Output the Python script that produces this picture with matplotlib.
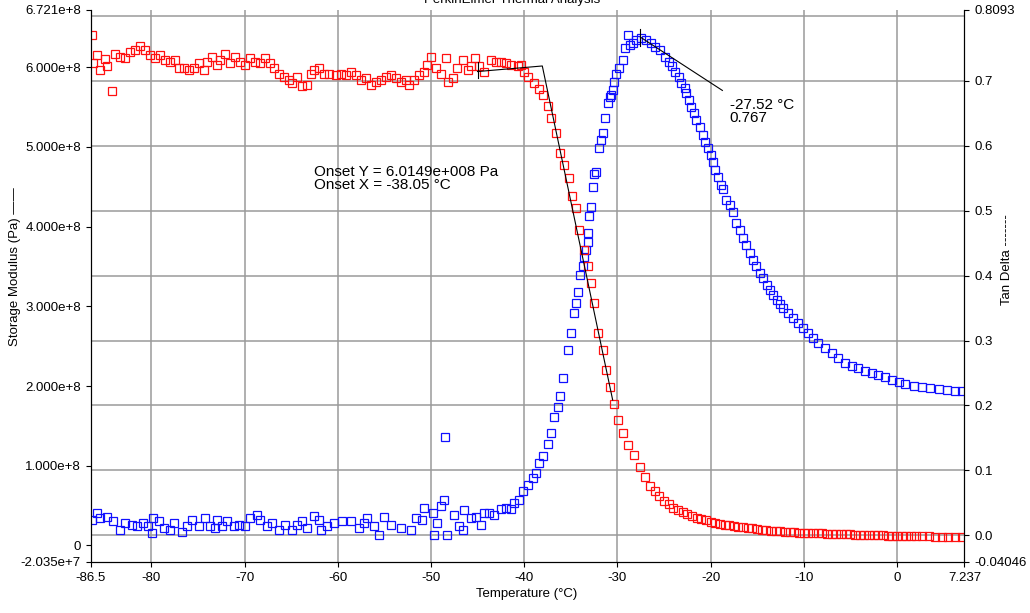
import matplotlib
matplotlib.use('Agg')
import matplotlib.pyplot as plt
import numpy as np

plt.rcParams['font.family'] = ['Liberation Sans', 'DejaVu Sans']

# storage modulus (red), temperature in C, modulus in 1e8 Pa
red_T = [-86.39, -86.22, -85.85, -85.50, -84.96, -84.78, -84.24, -83.89, -83.35, -82.81,
         -82.27, -81.74, -81.20, -80.66, -80.12, -79.59, -79.05, -78.51, -77.97, -77.44,
         -77.08, -76.54, -76.01, -75.47, -74.93, -74.39, -74.03, -73.49, -72.95, -72.60,
         -72.06, -71.52, -70.98, -70.45, -69.91, -69.37, -68.83, -68.30, -67.76, -67.22,
         -66.87, -66.33, -65.79, -65.25, -64.89, -64.35, -63.81, -63.27, -62.92, -62.56,
         -62.03, -61.49, -60.95, -60.23, -59.69, -59.16, -58.62, -58.08, -57.54, -57.01,
         -56.47, -55.93, -55.39, -54.85, -54.32, -53.78, -53.24, -52.70, -52.35, -51.81,
         -51.27, -50.74, -50.37, -49.94, -49.48, -48.94, -48.40, -48.22, -47.68, -47.15,
         -46.61, -46.07, -45.72, -45.25, -44.82, -44.28, -43.56, -43.03, -42.49, -41.95,
         -41.41, -40.69, -40.34, -39.98, -39.62, -38.91, -38.37, -38.01, -37.47, -37.11,
         -36.58, -36.11, -35.68, -35.15, -34.85, -34.42, -34.07, -33.53, -33.17, -32.81,
         -32.46, -32.09, -31.55, -31.20, -30.84, -30.31, -29.94, -29.40, -28.87, -28.16,
         -27.62, -27.0, -26.5, -26.0, -25.5, -25.0, -24.5, -24.0, -23.5, -23.0,
         -22.5, -22.0, -21.5, -21.0, -20.5, -20.0, -19.5, -19.0, -18.5, -18.0,
         -17.5, -17.0, -16.5, -16.0, -15.5, -15.0, -14.5, -14.0, -13.5, -13.0,
         -12.5, -12.0, -11.5, -11.0, -10.5, -10.0, -9.5, -9.0, -8.5, -8.0,
         -7.5, -7.0, -6.5, -6.0, -5.5, -5.0, -4.5, -4.0, -3.5, -3.0,
         -2.5, -2.0, -1.5, -1.0, -0.5, 0.0, 0.5, 1.0, 1.5, 2.0,
         2.7, 3.4, 4.1, 4.8, 5.5, 6.2, 7.0]
red_E = [6.405, 6.05, 6.15, 5.97, 6.10, 6.01, 5.70, 6.17, 6.13, 6.11,
         6.19, 6.22, 6.26, 6.22, 6.15, 6.11, 6.15, 6.09, 6.07, 6.09,
         5.99, 5.99, 5.97, 5.99, 6.05, 5.97, 6.07, 6.13, 6.03, 6.09,
         6.17, 6.05, 6.13, 6.07, 6.03, 6.11, 6.07, 6.05, 6.11, 6.05,
         5.99, 5.92, 5.88, 5.84, 5.80, 5.88, 5.76, 5.78, 5.92, 5.97,
         5.99, 5.92, 5.92, 5.90, 5.92, 5.90, 5.94, 5.90, 5.84, 5.86,
         5.78, 5.82, 5.84, 5.88, 5.90, 5.86, 5.82, 5.84, 5.78, 5.84,
         5.90, 5.94, 6.03, 6.13, 5.99, 5.92, 6.11, 5.82, 5.86, 5.99,
         6.09, 5.97, 6.01, 6.12, 6.01, 5.94, 6.09, 6.07, 6.07, 6.05,
         6.03, 6.01, 6.03, 5.94, 5.88, 5.80, 5.72, 5.65, 5.51, 5.36,
         5.17, 4.92, 4.77, 4.61, 4.38, 4.23, 3.96, 3.71, 3.50, 3.29,
         3.04, 2.66, 2.45, 2.20, 1.99, 1.78, 1.57, 1.41, 1.26, 1.13,
         0.99, 0.86, 0.75, 0.68, 0.62, 0.56, 0.52, 0.475, 0.445, 0.415,
         0.39, 0.37, 0.35, 0.33, 0.315, 0.30, 0.285, 0.272, 0.262, 0.252,
         0.243, 0.235, 0.228, 0.222, 0.215, 0.207, 0.20, 0.193, 0.187, 0.181,
         0.177, 0.173, 0.169, 0.165, 0.162, 0.159, 0.157, 0.155, 0.153, 0.151,
         0.149, 0.147, 0.145, 0.143, 0.141, 0.139, 0.137, 0.135, 0.133, 0.131,
         0.129, 0.128, 0.126, 0.125, 0.123, 0.122, 0.120, 0.119, 0.118, 0.117,
         0.115, 0.113, 0.112, 0.111, 0.109, 0.108, 0.106]

# tan delta (blue)
blue_T = [-86.39, -85.85, -85.50, -84.78, -84.07, -83.35, -82.81, -82.09, -81.55, -80.84,
          -80.31, -79.94, -79.77, -79.23, -78.69, -77.97, -77.62, -76.71, -76.18, -75.64,
          -74.93, -74.21, -73.67, -73.13, -72.95, -72.41, -71.88, -71.17, -70.63, -69.91,
          -69.37, -68.65, -68.30, -67.57, -67.04, -66.33, -65.61, -64.89, -64.35, -63.81,
          -63.27, -62.56, -62.03, -61.84, -61.12, -60.41, -59.51, -58.62, -57.73, -57.19,
          -56.82, -56.11, -55.57, -55.04, -54.32, -53.24, -52.17, -51.63, -50.91, -50.74,
          -49.83, -49.66, -49.30, -48.94, -48.65, -48.48, -48.30, -47.51, -46.97, -46.61,
          -46.43, -45.71, -45.18, -44.64, -44.28, -43.75, -43.21, -42.49, -41.95, -41.41,
          -41.06, -40.52, -40.16, -39.62, -39.08, -38.72, -38.37, -38.01, -37.47, -37.11,
          -36.76, -36.39, -36.11, -35.85, -35.32, -34.96, -34.67, -34.42, -34.18, -33.96,
          -33.70, -33.53, -33.35, -33.17, -33.10, -32.99, -32.81, -32.63, -32.46, -32.27,
          -31.92, -31.74, -31.55, -31.31, -31.02, -30.84, -30.67, -30.48, -30.31, -30.12,
          -29.77, -29.40, -29.23, -28.87, -28.69, -28.33, -27.98, -27.44, -26.90, -26.36,
          -26.01, -25.47, -24.93, -24.50, -24.13, -23.78, -23.42, -23.14, -22.78, -22.60,
          -22.35, -22.06, -21.77, -21.52, -21.17, -20.80, -20.55, -20.26, -19.98, -19.73,
          -19.48, -19.19, -18.91, -18.65, -18.30, -17.94, -17.57, -17.22, -16.87, -16.50,
          -16.15, -15.79, -15.42, -15.07, -14.71, -14.35, -13.99, -13.64, -13.27, -12.92,
          -12.56, -12.20, -11.66, -11.12, -10.59, -10.05, -9.51, -8.97, -8.44, -7.72,
          -7.01, -6.29, -5.57, -4.86, -4.14, -3.42, -2.70, -1.98, -1.27, -0.55,
          0.17, 0.88, 1.78, 2.67, 3.57, 4.47, 5.36, 6.25, 6.97]
blue_tan = [0.024, 0.034, 0.027, 0.029, 0.022, 0.009, 0.019, 0.016, 0.014, 0.019,
            0.014, 0.004, 0.027, 0.022, 0.011, 0.009, 0.019, 0.006, 0.014, 0.024,
            0.014, 0.027, 0.014, 0.011, 0.024, 0.014, 0.022, 0.014, 0.016, 0.014,
            0.027, 0.032, 0.024, 0.014, 0.019, 0.009, 0.016, 0.009, 0.016, 0.022,
            0.011, 0.030, 0.024, 0.009, 0.014, 0.019, 0.022, 0.022, 0.011, 0.019,
            0.027, 0.014, 0.001, 0.029, 0.016, 0.011, 0.009, 0.027, 0.024, 0.042,
            0.034, 0.001, 0.019, 0.045, 0.055, 0.151, 0.001, 0.032, 0.014, 0.009,
            0.039, 0.027, 0.029, 0.016, 0.034, 0.034, 0.032, 0.040, 0.042, 0.040,
            0.050, 0.055, 0.068, 0.078, 0.088, 0.096, 0.111, 0.122, 0.140, 0.158,
            0.183, 0.198, 0.214, 0.242, 0.286, 0.311, 0.342, 0.358, 0.375, 0.401,
            0.414, 0.429, 0.440, 0.452, 0.465, 0.491, 0.506, 0.537, 0.557, 0.560,
            0.596, 0.609, 0.619, 0.642, 0.665, 0.675, 0.678, 0.686, 0.698, 0.711,
            0.719, 0.732, 0.750, 0.770, 0.755, 0.758, 0.763, 0.765, 0.763, 0.758,
            0.752, 0.747, 0.737, 0.729, 0.722, 0.714, 0.706, 0.696, 0.688, 0.681,
            0.670, 0.660, 0.650, 0.640, 0.629, 0.616, 0.606, 0.596, 0.586, 0.575,
            0.563, 0.552, 0.540, 0.534, 0.516, 0.509, 0.498, 0.481, 0.470, 0.458,
            0.447, 0.434, 0.424, 0.414, 0.404, 0.396, 0.386, 0.378, 0.370, 0.363,
            0.356, 0.350, 0.342, 0.334, 0.327, 0.319, 0.311, 0.304, 0.296, 0.288,
            0.281, 0.273, 0.266, 0.261, 0.257, 0.253, 0.250, 0.247, 0.244, 0.240,
            0.236, 0.233, 0.230, 0.228, 0.227, 0.225, 0.224, 0.223, 0.222]

# onset construction and peak marker
onset_T = [-45.0, -38.05, -30.5]
onset_E = [5.945, 6.0149, 1.825]
peak_T, peak_tan = -27.52, 0.767
peak_label_T, peak_label_tan = -18.73, 0.685

x_ticks = [-86.5, -80, -70, -60, -50, -40, -30, -20, -10, 0, 7.237]
x_labels = ['-86.5', '-80', '-70', '-60', '-50', '-40', '-30', '-20', '-10', '0', '7.237']
left_ticks = [-2.035e7, 0, 1e8, 2e8, 3e8, 4e8, 5e8, 6e8, 6.721e8]
left_labels = ['-2.035e+7', '0', '1.000e+8', '2.000e+8', '3.000e+8', '4.000e+8',
               '5.000e+8', '6.000e+8', '6.721e+8']
right_ticks = [-0.04046, 0.0, 0.1, 0.2, 0.3, 0.4, 0.5, 0.6, 0.7, 0.8093]
right_labels = ['-0.04046', '0.0', '0.1', '0.2', '0.3', '0.4', '0.5', '0.6', '0.7', '0.8093']
grid_tan = [0.0, 0.1, 0.2, 0.3, 0.4, 0.5, 0.6, 0.7, 0.8]
grid_T = [-80, -70, -60, -50, -40, -30, -20, -10, 0]

fig = plt.figure(figsize=(10.3, 6.13), dpi=100)
ax = fig.add_axes([0.0881, 0.0837, 0.8482, 0.9005])   # tan delta (right)
ax2 = ax.twinx()                                      # storage modulus (left)

ax.yaxis.tick_right()
ax2.yaxis.tick_left()

ax.set_xlim(-86.5, 7.237)
ax.set_ylim(-0.04046, 0.8093)
ax2.set_ylim(-2.035e7, 6.721e8)

# grid lines sit on the tan delta scale, keep them even where they hit major ticks
ax.xaxis.remove_overlapping_locs = False
ax.yaxis.remove_overlapping_locs = False
gc = '#9a9a9a'
ax.set_xticks(grid_T, minor=True)
ax.set_yticks(grid_tan, minor=True)
ax.grid(which='minor', color=gc, lw=1.1)
ax.tick_params(which='minor', length=0)

ax.set_xticks(x_ticks)
ax.set_xticklabels(x_labels)
ax.set_yticks(right_ticks)
ax.set_yticklabels(right_labels)
ax2.set_yticks(left_ticks)
ax2.set_yticklabels(left_labels)

for a in (ax, ax2):
    a.tick_params(which='major', direction='out', length=3.6, width=0.8,
                  labelsize=9.5, colors='black')
    a.spines['top'].set_visible(False)
ax2.tick_params(axis='y', left=True, right=False, labelleft=True, labelright=False)
ax.tick_params(axis='y', left=False, right=True, labelleft=False, labelright=True)

ax.plot(blue_T, blue_tan, ls='none', marker='s', ms=5.2, mfc='none',
        mec='#1010ff', mew=0.9)
ax2.plot(red_T, np.array(red_E) * 1e8, ls='none', marker='s', ms=5.2, mfc='none',
         mec='#ff1010', mew=0.9)

# onset lines
ax2.plot(onset_T, np.array(onset_E) * 1e8, color='black', lw=0.8)
ax2.plot([onset_T[0], onset_T[0]], [5.86e8, 6.07e8], color='black', lw=0.8)
ax2.text(-62.56, 4.635e8, 'Onset Y = 6.0149e+008 Pa', fontsize=11, va='baseline')
ax2.text(-62.56, 4.47e8, 'Onset X = -38.05 \u00b0C', fontsize=11, va='baseline')

# peak marker
ax.plot([peak_T, peak_T], [0.753, 0.779], color='black', lw=0.8)
ax.plot([peak_T, peak_label_T], [peak_tan, peak_label_tan], color='black', lw=0.8)
ax.text(-17.96, 0.656, '-27.52 \u00b0C', fontsize=11, va='baseline')
ax.text(-17.96, 0.637, '0.767', fontsize=11, va='baseline')

fig.text(527 / 1030, 1 - 594 / 613, 'Temperature (\u00b0C)', fontsize=9.5,
         ha='center', va='center')
fig.text(15 / 1030, 1 - 267 / 613, 'Storage Modulus (Pa) \u2014\u2014', fontsize=9.5,
         rotation=90, ha='center', va='center')
fig.text(1007 / 1030, 1 - 260 / 613, 'Tan Delta -------', fontsize=9.5,
         rotation=90, ha='center', va='center')
fig.text(512 / 1030, 1 - 3 / 613, 'PerkinElmer Thermal Analysis', fontsize=9.5,
         ha='center', va='baseline')

fig.savefig('out.png', dpi=100)
